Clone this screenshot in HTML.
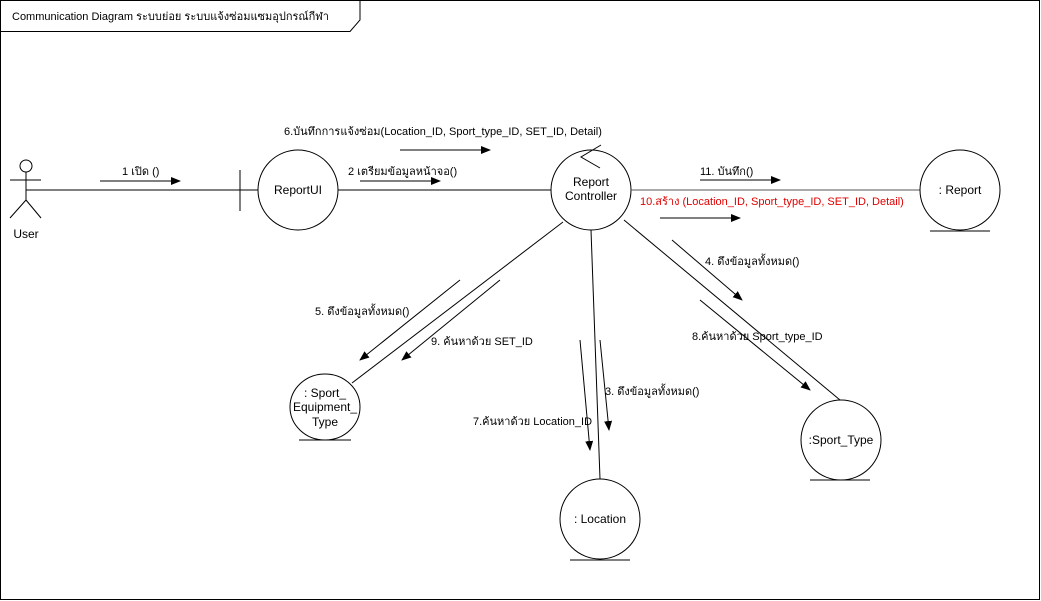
<!DOCTYPE html>
<html><head><meta charset="utf-8">
<style>
html,body{margin:0;padding:0;background:#fff;}
svg{display:block;}
text{font-family:"Liberation Sans","Noto Sans CJK SC",sans-serif;font-size:11px;fill:#000;}
.n{font-size:12px;}
</style></head>
<body>
<svg width="1041" height="601" viewBox="0 0 1041 601" xmlns="http://www.w3.org/2000/svg">
<defs>
<marker id="a" markerWidth="10" markerHeight="8" refX="9" refY="4" orient="auto" markerUnits="userSpaceOnUse">
<path d="M0,0 L10,4 L0,8 Z" fill="#000"/>
</marker>
</defs>
<g fill="none" stroke="#000" stroke-width="1">
<rect x="0.5" y="0.5" width="1039" height="599"/>
<path d="M0.5,31.5 H350 L360,20 V0.5"/>
<circle cx="26" cy="166" r="6"/>
<line x1="26" y1="172" x2="26" y2="200"/>
<line x1="10" y1="180" x2="41" y2="180"/>
<line x1="26" y1="200" x2="10" y2="218"/>
<line x1="26" y1="200" x2="41" y2="218"/>
<line x1="26" y1="190" x2="258" y2="190"/>
<line x1="240" y1="170" x2="240" y2="211"/>
<circle cx="298" cy="190" r="40"/>
<line x1="338" y1="190" x2="551" y2="190"/>
<circle cx="591" cy="190" r="40"/>
<path d="M601,145 L581,157 L600,168"/>
<line x1="631" y1="190" x2="920" y2="190" stroke="#555"/>
<circle cx="960" cy="190" r="40"/>
<line x1="930" y1="231" x2="990" y2="231"/>
<line x1="563" y1="222" x2="352" y2="383"/>
<ellipse cx="325" cy="407" rx="35" ry="33"/>
<line x1="299" y1="440" x2="351" y2="440"/>
<line x1="591" y1="230" x2="600" y2="479"/>
<circle cx="600" cy="519" r="40"/>
<line x1="570" y1="560" x2="630" y2="560"/>
<line x1="624" y1="220" x2="840" y2="400"/>
<circle cx="841" cy="440" r="40"/>
<line x1="810" y1="480" x2="870" y2="480"/>
<line x1="100" y1="181" x2="180" y2="181" marker-end="url(#a)"/>
<line x1="360" y1="181" x2="440" y2="181" marker-end="url(#a)"/>
<line x1="400" y1="150" x2="490" y2="150" marker-end="url(#a)"/>
<line x1="700" y1="180" x2="780" y2="180" marker-end="url(#a)"/>
<line x1="660" y1="218" x2="740" y2="218" marker-end="url(#a)"/>
<line x1="460" y1="280" x2="360" y2="360" marker-end="url(#a)"/>
<line x1="500" y1="280" x2="402" y2="360" marker-end="url(#a)"/>
<line x1="580" y1="340" x2="590" y2="450" marker-end="url(#a)"/>
<line x1="600" y1="340" x2="609" y2="430" marker-end="url(#a)"/>
<line x1="672" y1="240" x2="742" y2="300" marker-end="url(#a)"/>
<line x1="700" y1="300" x2="810" y2="390" marker-end="url(#a)"/>
</g>
<text x="12" y="20">Communication Diagram ระบบย่อย ระบบแจ้งซ่อมแซมอุปกรณ์กีฬา</text>
<text x="26" y="238" text-anchor="middle" class="n">User</text>
<text x="298" y="194" text-anchor="middle" class="n">ReportUI</text>
<text x="591" y="186" text-anchor="middle" class="n">Report</text>
<text x="591" y="200" text-anchor="middle" class="n">Controller</text>
<text x="960" y="194" text-anchor="middle" class="n">: Report</text>
<text x="325" y="397" text-anchor="middle" class="n">: Sport_</text>
<text x="325" y="411" text-anchor="middle" class="n">Equipment_</text>
<text x="325" y="426" text-anchor="middle" class="n">Type</text>
<text x="600" y="523" text-anchor="middle" class="n">: Location</text>
<text x="841" y="444" text-anchor="middle" class="n">:Sport_Type</text>
<text x="122" y="175">1 เปิด ()</text>
<text x="348" y="175">2 เตรียมข้อมูลหน้าจอ()</text>
<text x="284" y="135">6.บันทึกการแจ้งซ่อม(Location_ID, Sport_type_ID, SET_ID, Detail)</text>
<text x="700" y="175">11. บันทึก()</text>
<text x="640" y="205" style="fill:#e00000">10.สร้าง (Location_ID, Sport_type_ID, SET_ID, Detail)</text>
<text x="705" y="265">4. ดึงข้อมูลทั้งหมด()</text>
<text x="692" y="340">8.ค้นหาด้วย Sport_type_ID</text>
<text x="315" y="315">5. ดึงข้อมูลทั้งหมด()</text>
<text x="431" y="345">9. ค้นหาด้วย SET_ID</text>
<text x="605" y="395">3. ดึงข้อมูลทั้งหมด()</text>
<text x="473" y="425">7.ค้นหาด้วย Location_ID</text>
</svg>
</body></html>
